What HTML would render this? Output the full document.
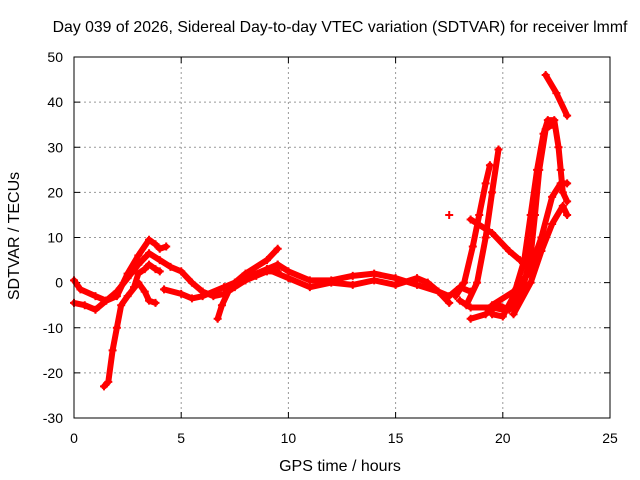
<!DOCTYPE html>
<html><head><meta charset="utf-8"><style>
body{margin:0;background:#fff}
svg{display:block;font-family:"Liberation Sans",sans-serif;font-size:14px}
</style></head><body>
<svg id="chart" width="640" height="480">
<rect width="640" height="480" fill="#fff"/>
<text x="340" y="32" text-anchor="middle" font-size="15.8">Day 039 of 2026, Sidereal Day-to-day VTEC variation (SDTVAR) for receiver lmmf</text>
<text x="340" y="471" text-anchor="middle" font-size="16">GPS time / hours</text>
<text transform="translate(19,236) rotate(-90)" text-anchor="middle" font-size="16">SDTVAR / TECUs</text>
<g id="grid"></g><g id="ticks"></g><g id="series"></g>
<rect x="74" y="57" width="536" height="361" fill="none" stroke="#000" stroke-width="1"/>
</svg>
<script>
const xTicks=[0,5,10,15,20,25];
const yTicks=[-30,-20,-10,0,10,20,30,40,50];
const s1=[[0,0.5],[0.3,-1.5],[1,-3],[1.5,-4],[2,-3],[2.5,2],[3,6],[3.5,9.5],[3.8,8.5],[4,7.5],[4.3,8]];
const s2=[[0,-4.5],[0.5,-5],[1,-6],[1.5,-4],[2,-2],[2.5,1],[3,4],[3.5,6.5],[4,5],[4.5,3.5],[5,2.5],[5.5,0],[6,-2],[6.5,-3],[7,-2.5],[7.5,-1],[8,0.5],[8.5,1.5],[9,2.5],[9.5,2.5]];
const s3=[[2.8,-1],[3,2],[3.3,3],[3.5,4],[3.8,3],[4,2.5]];
const s4=[[1.4,-23],[1.6,-22],[1.8,-15],[2,-10],[2.2,-5],[2.5,-3],[3,0],[3.3,-2],[3.5,-4],[3.8,-4.5]];
const s5=[[4.2,-1.5],[5,-2.5],[5.5,-3.5],[6,-3],[7,-1],[8,1],[9,3],[9.5,4]];
const s6=[[6.7,-8],[6.9,-5],[7.2,-2],[7.5,0],[8,2],[9,5],[9.5,7.5]];
const s7=[[9.5,4],[10,2.5],[11,0.5],[12,0.5],[13,1.5],[14,2],[15,1],[16,-0.5],[17,-2],[17.5,-3],[18,-1],[18.5,-2]];
const s8=[[9,3],[10,1],[11,-1],[12,0],[13,-0.5],[14,0.5],[15,-0.5],[16,1],[16.5,0],[17,-2],[17.5,-4.5]];
const s9=[[17.8,-3],[18.2,0],[18.6,8],[18.9,15],[19.2,22],[19.4,26]];
const s10=[[18.3,-5],[18.8,0],[19.2,10],[19.5,20],[19.8,29.5]];
const s11=[[18.5,14],[19.5,11],[20.3,7],[20.8,5],[21.2,3]];
const s12=[[18.5,-8],[19.2,-7],[19.8,-5],[20.3,-6],[20.6,-4],[21,0],[21.3,6],[21.5,15],[21.7,25],[22,34],[22.3,35]];
const s13=[[19.5,-7],[20,-7.5],[20.5,-3],[21,5],[21.3,15],[21.6,25],[21.9,33],[22.1,36],[22.4,36],[22.6,30],[22.7,25],[22.8,20],[23,18]];
const s14=[[22,46],[22.5,42],[23,37]];
const s15=[[19.5,-5],[20.5,-2],[21.2,2],[21.8,10],[22.3,19],[22.7,22],[23,22]];
const s16=[[20.5,-7],[21.3,0],[21.8,7],[22.3,13],[22.8,17],[23,15]];
const s17=[[18,-4],[18.5,-5.5],[19.5,-5.5],[20,-6]];
const s18=[[17.5,15]];
const allSeries=[s1,s2,s3,s4,s5,s6,s7,s8,s9,s10,s11,s12,s13,s14,s15,s16,s17,s18];
const X0=74,X1=610,Y0=418,Y1=57;
const xs=v=>X0+(v-0)/(25-0)*(X1-X0);
const ys=v=>Y0-(v+30)/(80)*(Y0-Y1);
const NS='http://www.w3.org/2000/svg';
const G=document.getElementById('grid'),T=document.getElementById('ticks'),S=document.getElementById('series');
function mk(tag,at,p){const e=document.createElementNS(NS,tag);for(const k in at)e.setAttribute(k,at[k]);p.appendChild(e);return e;}
xTicks.forEach(t=>{const x=xs(t);
 if(t>0&&t<25){const g=mk('line',{x1:x,x2:x,y1:Y1,y2:Y0,stroke:'#999','stroke-dasharray':'2,3'},G);
 
 }
 const l=mk('text',{x:x,y:443,'text-anchor':'middle'},T);l.textContent=t;
 
 
 mk('line',{x1:x,x2:x,y1:Y0,y2:Y0-6,stroke:'#000'},T);mk('line',{x1:x,x2:x,y1:Y1,y2:Y1+6,stroke:'#000'},T);});
yTicks.forEach(t=>{const y=ys(t);
 if(t>-30&&t<50){const g=mk('line',{x1:X0,x2:X1,y1:y,y2:y,stroke:'#999','stroke-dasharray':'2,3'},G);
 
 }
 const l=mk('text',{x:63,y:y+5,'text-anchor':'end'},T);l.textContent=t;
 
 
 mk('line',{x1:X0,x2:X0+6,y1:y,y2:y,stroke:'#000'},T);mk('line',{x1:X1,x2:X1-6,y1:y,y2:y,stroke:'#000'},T);});
allSeries.forEach((s,i)=>{
 const g=mk('g',{},S);
 
 
 if(s.length>1)mk('polyline',{points:s.map(p=>xs(p[0])+','+ys(p[1])).join(' '),fill:'none',stroke:'#f00','stroke-width':6,'stroke-linejoin':'round','stroke-linecap':'round'},g);
 s.forEach(p=>{const x=xs(p[0]),y=ys(p[1]);
  mk('path',{d:`M${x-4},${y}H${x+4}M${x},${y-4}V${y+4}`,stroke:'#f00','stroke-width':2},g);});
});
</script>
</body></html>
